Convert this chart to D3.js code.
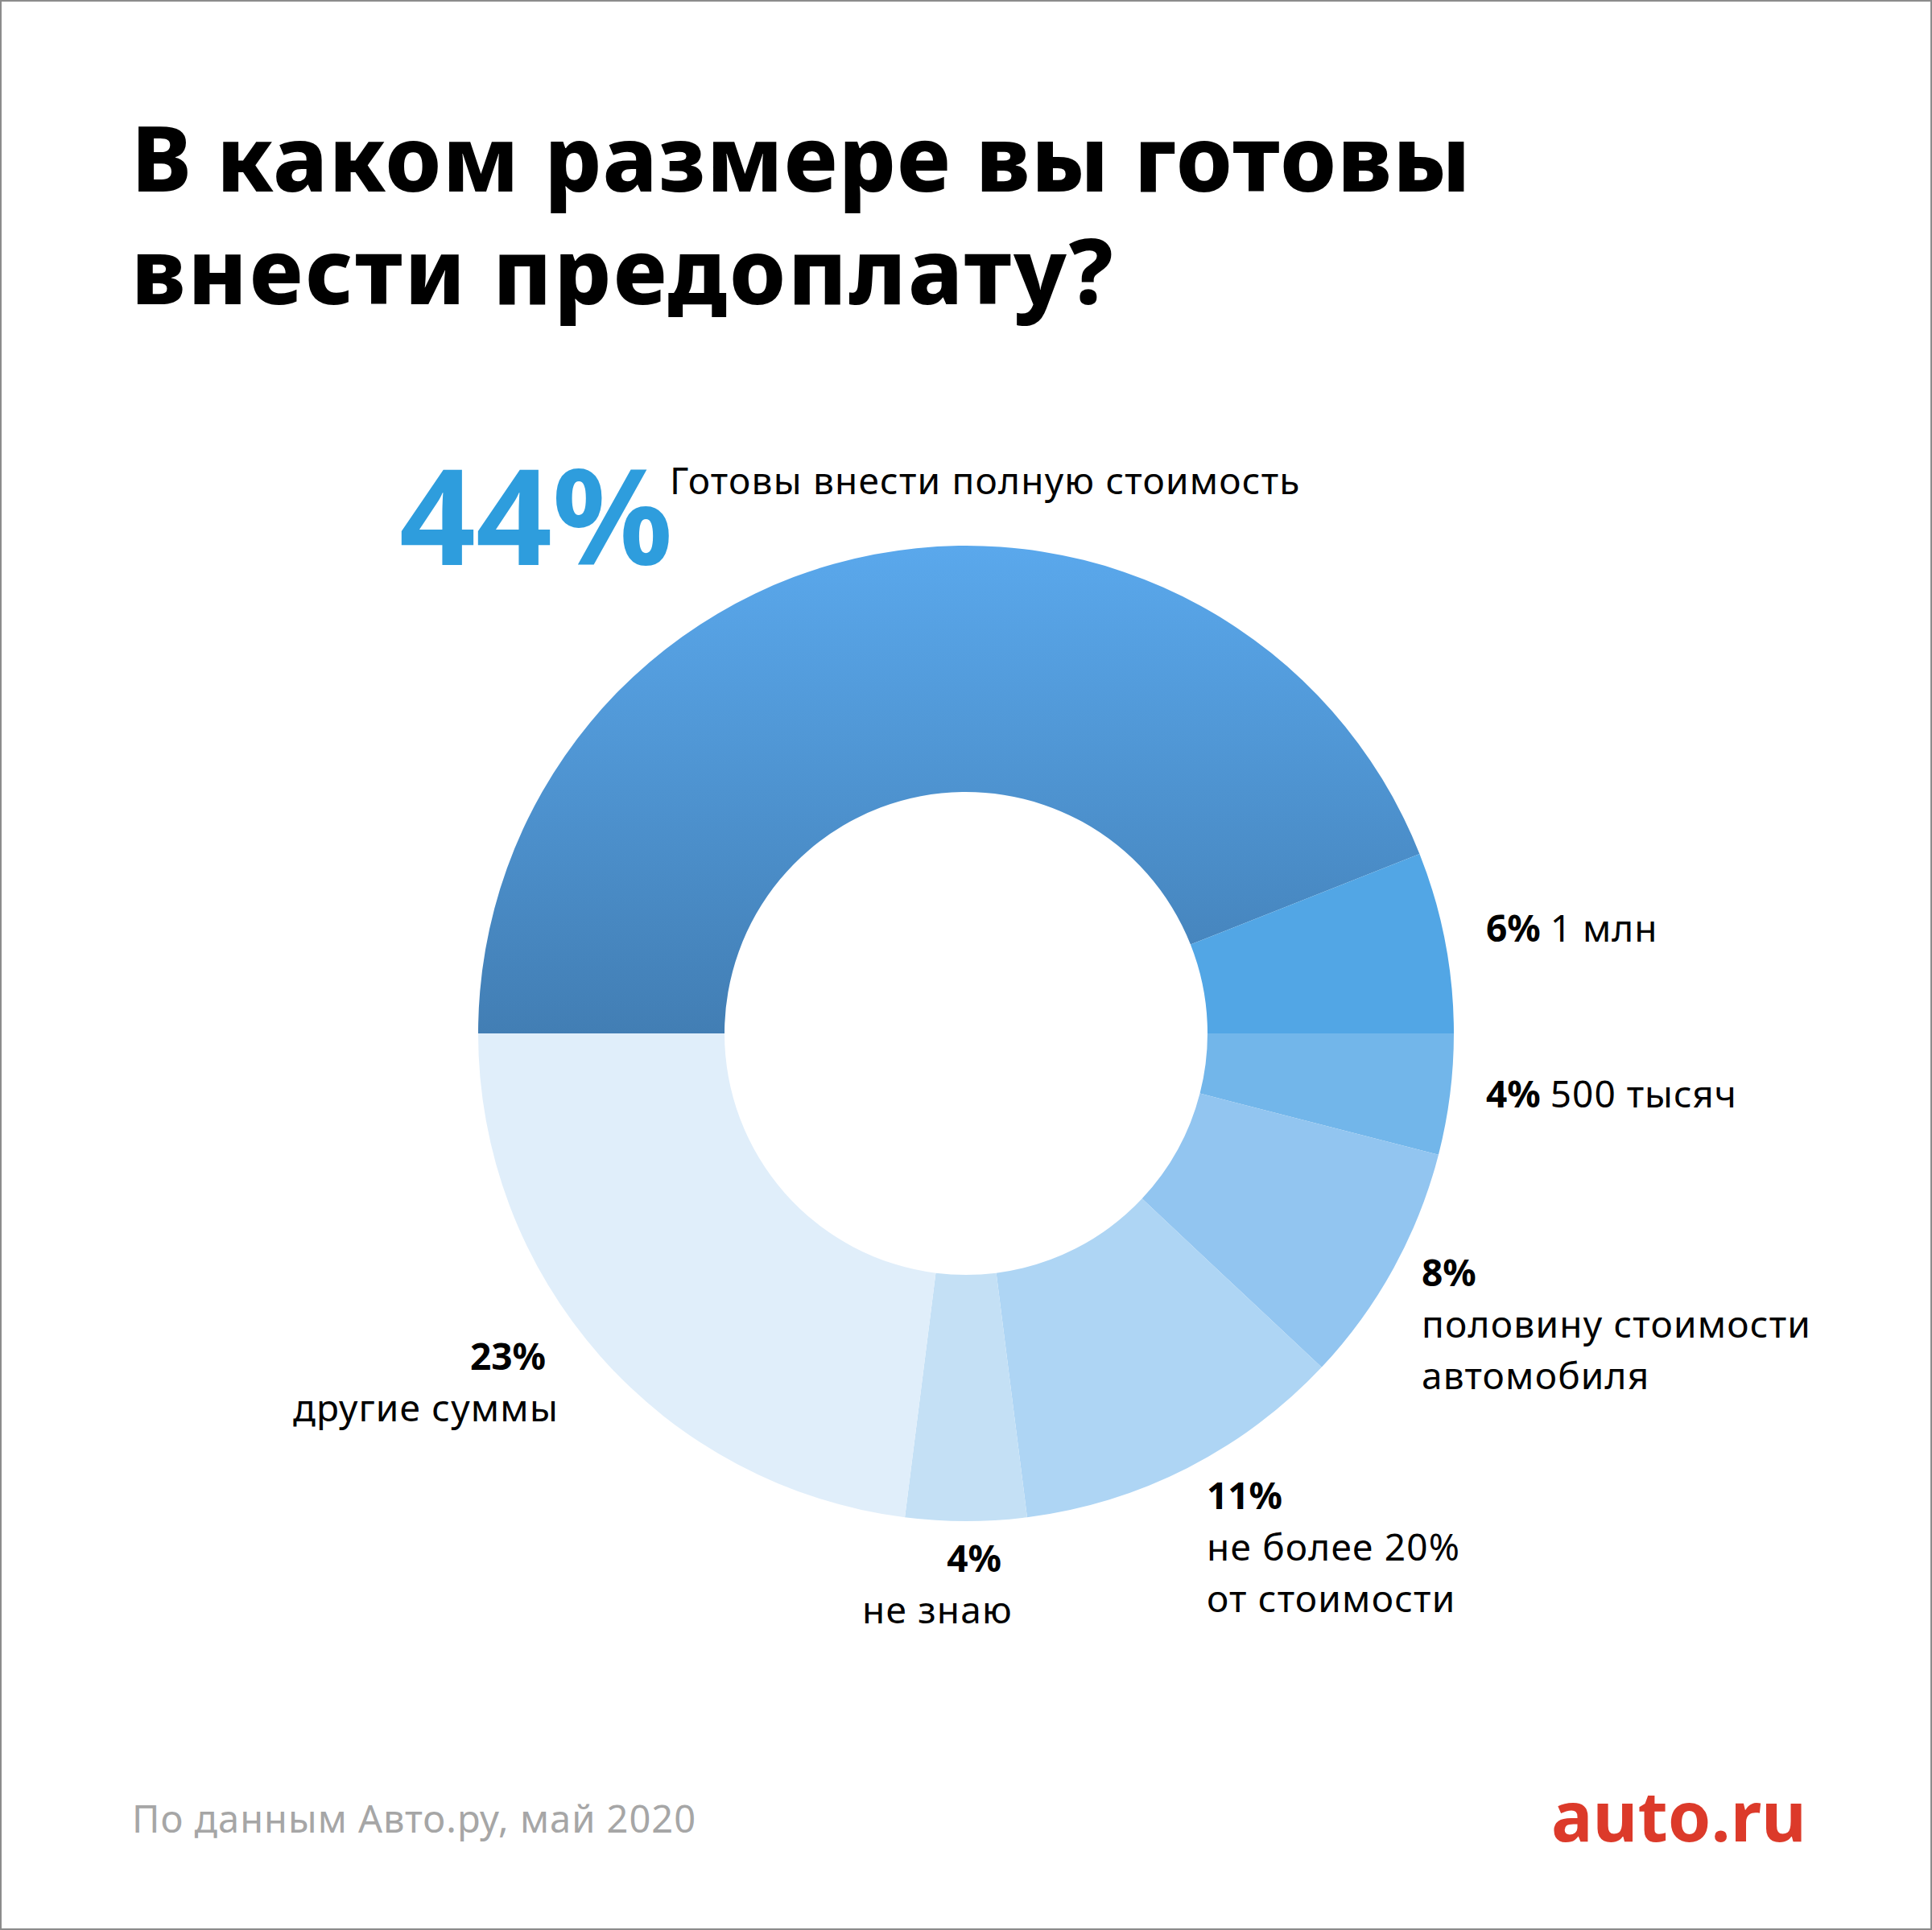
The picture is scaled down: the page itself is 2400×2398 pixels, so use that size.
<!DOCTYPE html>
<html>
<head>
<meta charset="utf-8">
<script src="https://cdn.jsdelivr.net/npm/d3@7"></script>
<style>
  html, body { margin: 0; padding: 0; background: #fff; }
  svg { display: block; }
  text { font-family: "Noto Sans", sans-serif; fill: #000; }
</style>
</head>
<body>
<svg id="chart" width="2400" height="2398"></svg>
<script>
// survey answers, clockwise from 9 o'clock
var categories = ['Готовы внести полную стоимость', '1 млн', '500 тысяч',
  'половину стоимости автомобиля', 'не более 20% от стоимости', 'не знаю', 'другие суммы'];
var values = [44, 6, 4, 8, 11, 4, 23];
var sliceColors = ['url(#topGrad)', '#52a6e5', '#72b6ea', '#92c5f0', '#aed5f4', '#c4e0f5', '#e0eefa'];

var titleLines = ['В каком размере вы готовы', 'внести предоплату?'];
var source = 'По данным Авто.ру, май 2020';

// where each label goes (x of percent, x of text, first baseline, anchor, lines)
var labelLayout = [
  null,
  { x: 1846, y: 1170, anchor: 'start', inline: true },
  { x: 1846, y: 1376, anchor: 'start', inline: true },
  { x: 1766, tx: 1766, y: 1598, anchor: 'start', lines: ['половину стоимости', 'автомобиля'] },
  { x: 1499, tx: 1499, y: 1875, anchor: 'start', lines: ['не более 20%', 'от стоимости'] },
  { x: 1244, tx: 1258, y: 1953, anchor: 'end', lines: ['не знаю'] },
  { x: 678, tx: 694, y: 1702, anchor: 'end', lines: ['другие суммы'] }
];

var svg = d3.select('#chart');
var W = 2400, H = 2398;

svg.append('rect')
  .attr('x', 1).attr('y', 1)
  .attr('width', W - 2).attr('height', H - 2)
  .attr('fill', '#fff')
  .attr('stroke', '#8c8c8c')
  .attr('stroke-width', 2);

var defs = svg.append('defs');
var grad = defs.append('linearGradient')
  .attr('id', 'topGrad')
  .attr('x1', 0).attr('y1', 0).attr('x2', 0).attr('y2', 1);
grad.append('stop').attr('offset', '0%').attr('stop-color', '#5aa8ec');
grad.append('stop').attr('offset', '100%').attr('stop-color', '#427eb4');

// title
svg.append('g').selectAll('text')
  .data(titleLines)
  .enter()
  .append('text')
  .attr('x', 163)
  .attr('y', function(d, i) { return 238 + i * 140 })
  .attr('font-size', 112)
  .attr('font-weight', 800)
  .attr('letter-spacing', function(d, i) { return i ? 2.6 : 1.2 })
  .text(function(d) { return d });

// donut
var cx = 1200, cy = 1284;
var pie = d3.pie()
  .sort(null)
  .startAngle(-Math.PI / 2)
  .endAngle(Math.PI * 1.5)
  .value(function(d) { return d });
var arc = d3.arc().innerRadius(300).outerRadius(606);

var donut = svg.append('g').attr('transform', 'translate(' + cx + ',' + cy + ')');
donut.selectAll('path')
  .data(pie(values))
  .enter()
  .append('path')
  .attr('d', arc)
  .attr('fill', function(d, i) { return sliceColors[i] });

// big label for the first slice
svg.append('text')
  .attr('x', 496).attr('y', 702)
  .attr('font-size', 166)
  .attr('font-weight', 700)
  .style('fill', '#2e9ddd')
  .text(values[0] + '%');
svg.append('text')
  .attr('x', 832).attr('y', 614)
  .attr('font-size', 46)
  .attr('letter-spacing', 1.2)
  .text(categories[0]);

// other labels
labelLayout.forEach(function(l, i) {
  if (!l) return;
  var t = svg.append('text')
    .attr('x', l.x).attr('y', l.y)
    .attr('text-anchor', l.anchor)
    .attr('font-size', 46);
  if (l.inline) {
    t.append('tspan').attr('font-weight', 700).text(values[i] + '% ');
    t.append('tspan').attr('letter-spacing', 1).text(categories[i]);
    return;
  }
  t.attr('font-weight', 700).text(values[i] + '%');
  l.lines.forEach(function(line, j) {
    svg.append('text')
      .attr('x', l.tx).attr('y', l.y + 64 * (j + 1))
      .attr('text-anchor', l.anchor)
      .attr('font-size', 46)
      .attr('letter-spacing', 1.2)
      .text(line);
  });
});

// footer
svg.append('text')
  .attr('x', 164).attr('y', 2277)
  .attr('font-size', 47)
  .attr('letter-spacing', 1)
  .style('fill', '#a6a6a6')
  .text(source);
svg.append('text')
  .attr('x', 2244).attr('y', 2288)
  .attr('text-anchor', 'end')
  .attr('font-size', 86)
  .attr('font-weight', 700)
  .style('fill', '#dc3a2a')
  .text('auto.ru');
</script>
</body>
</html>
